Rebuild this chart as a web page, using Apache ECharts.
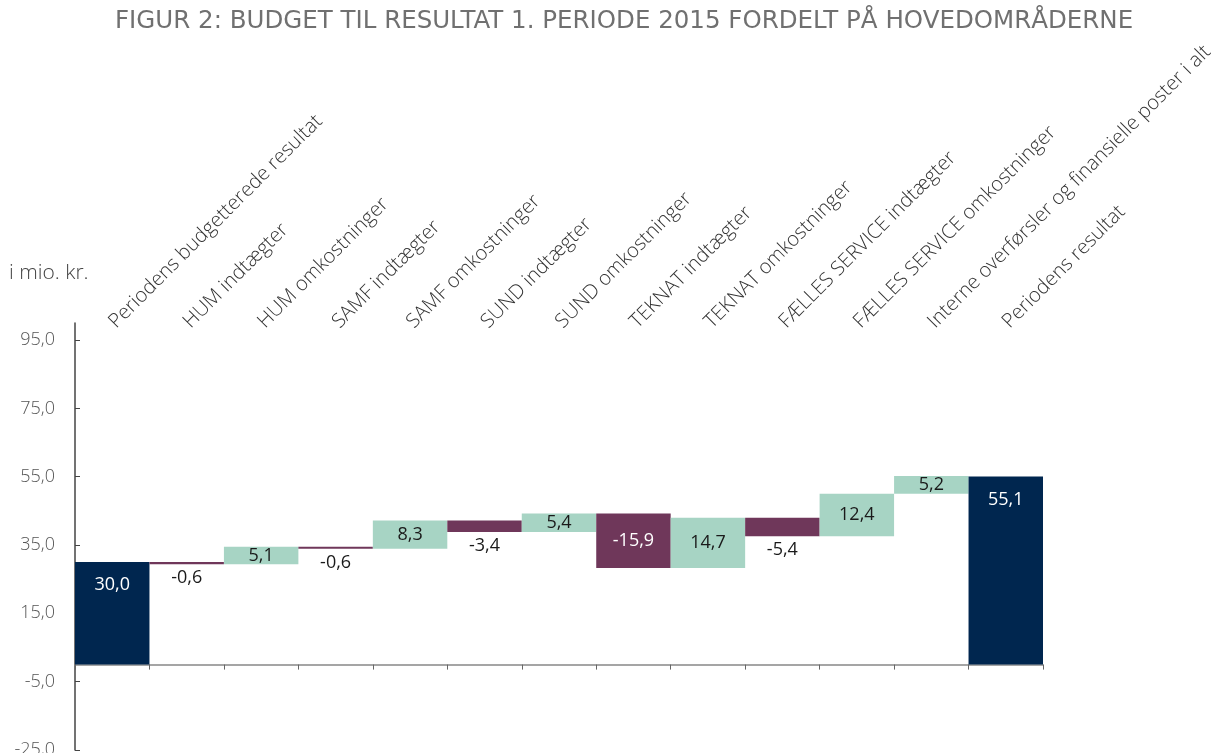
<!DOCTYPE html>
<html>
<head>
<meta charset="utf-8">
<script src="https://cdn.jsdelivr.net/npm/echarts@6/dist/echarts.min.js"></script>
<style>
html, body { margin: 0; padding: 0; background: #fff; }
#chart { width: 1222px; height: 753px; }
</style>
</head>
<body>
<div id="chart"></div>
<script>
const categories = [
  "Periodens budgetterede resultat",
  "HUM indtægter",
  "HUM omkostninger",
  "SAMF indtægter",
  "SAMF omkostninger",
  "SUND indtægter",
  "SUND omkostninger",
  "TEKNAT indtægter",
  "TEKNAT omkostninger",
  "FÆLLES SERVICE indtægter",
  "FÆLLES SERVICE omkostninger",
  "Interne overførsler og finansielle poster i alt",
  "Periodens resultat"
];
const changes = [30.0, -0.6, 5.1, -0.6, 8.3, -3.4, 5.4, -15.9, 14.7, -5.4, 12.4, 5.2, 55.1];
const isTotal = [true, false, false, false, false, false, false, false, false, false, false, false, true];
const yTicks = [-25, -5, 15, 35, 55, 75, 95];

const NAVY = "#00264f";
const PLUM = "#6f375a";
const MINT = "#a7d4c4";
const FONT = "Open Sans";

function fmt(v) {
  return v.toFixed(1).replace(".", ",");
}

// invisible base + visible height for each step of the waterfall
const base = [];
const height = [];
let level = 0;
changes.forEach((v, i) => {
  if (isTotal[i]) {
    base.push(0);
    height.push(v);
    level = v;
    return;
  }
  const next = level + v;
  base.push(Math.min(level, next));
  height.push(Math.abs(v));
  level = next;
});

const bars = changes.map((v, i) => {
  let color, label;
  if (isTotal[i]) {
    color = NAVY;
    label = { position: "insideTop", distance: 14, color: "#fff" };
  } else if (v < 0) {
    color = PLUM;
    label = Math.abs(v) > 10
      ? { position: "inside", color: "#fff" }
      : { position: "bottom", distance: 5, color: "#1a1a1a" };
  } else {
    color = MINT;
    label = { position: "inside", color: "#1a1a1a" };
  }
  return { value: height[i], itemStyle: { color: color }, label: label };
});

const chart = echarts.init(document.querySelector("#chart"));
chart.setOption({
  animation: false,
  title: [
    {
      text: "FIGUR 2: BUDGET TIL RESULTAT 1. PERIODE 2015 FORDELT PÅ HOVEDOMRÅDERNE",
      left: 110,
      top: 4,
      textStyle: { fontFamily: "DejaVu Sans", fontSize: 24.5, fontWeight: "normal", color: "#707070" }
    },
    {
      text: "i mio. kr.",
      left: 4,
      top: 258,
      textStyle: { fontFamily: FONT, fontSize: 21, fontWeight: 300, color: "#444" }
    }
  ],
  grid: { left: 75, right: 179, top: 323, bottom: 3, containLabel: false, outerBoundsMode: "none" },
  xAxis: [
    {
      type: "category",
      data: categories,
      position: "bottom",
      axisLine: { onZero: true, lineStyle: { color: "#888", width: 1.5 } },
      axisTick: { show: true, interval: 0, length: 5, lineStyle: { color: "#666" } },
      axisLabel: { show: false }
    },
    {
      type: "category",
      data: categories,
      position: "top",
      axisLine: { show: false },
      axisTick: { show: false },
      axisLabel: {
        interval: 0,
        rotate: -45,
        margin: -2,
        fontFamily: FONT,
        fontSize: 20,
        fontWeight: 300,
        color: "#333"
      }
    }
  ],
  yAxis: {
    type: "value",
    min: -25,
    max: 100,
    interval: 20,
    splitLine: { show: false },
    axisLine: { show: true, lineStyle: { color: "#444", width: 1.5 } },
    axisTick: { show: true, inside: true, length: 5, customValues: yTicks, lineStyle: { color: "#444" } },
    axisLabel: {
      customValues: yTicks,
      formatter: fmt,
      margin: 20,
      fontFamily: FONT,
      fontSize: 18,
      fontWeight: 300,
      color: "#555"
    }
  },
  series: [
    {
      type: "bar",
      stack: "fall",
      xAxisIndex: 0,
      data: base,
      itemStyle: { color: "transparent" },
      emphasis: { disabled: true },
      silent: true
    },
    {
      type: "bar",
      stack: "fall",
      xAxisIndex: 0,
      barCategoryGap: "0%",
      data: bars,
      label: {
        show: true,
        fontFamily: FONT,
        fontSize: 18,
        formatter: p => fmt(changes[p.dataIndex])
      }
    }
  ]
});
</script>
</body>
</html>
